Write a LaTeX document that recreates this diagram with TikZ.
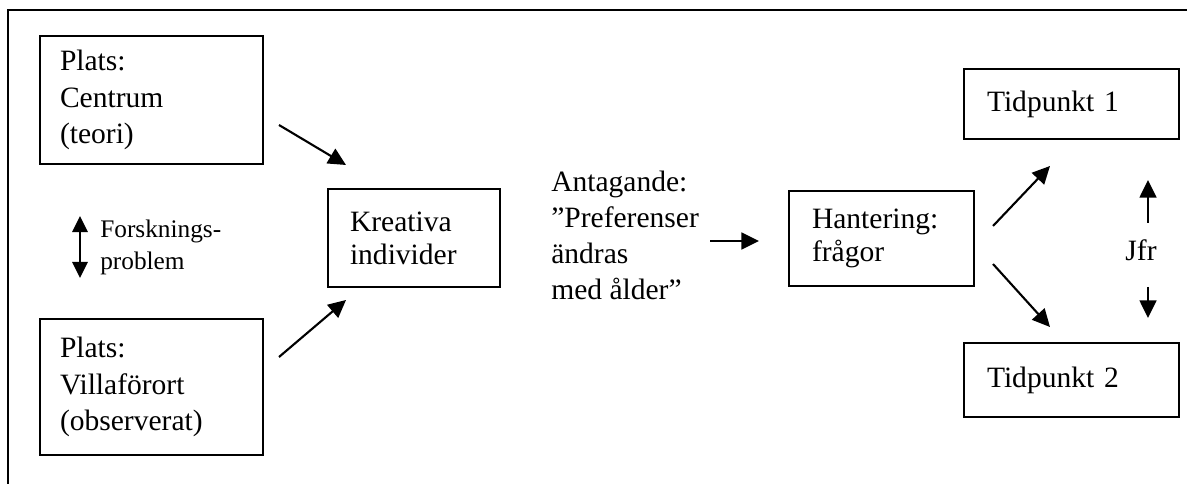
\documentclass[tikz,border=0pt]{standalone}
\usepackage{fontspec}
\setmainfont{Liberation Serif}
\usetikzlibrary{arrows.meta}
\begin{document}
\begin{tikzpicture}[x=0.025cm,y=-0.025cm,
  box/.style={draw, line width=1.4pt, rectangle, anchor=north west, align=left,
    inner ysep=0pt, outer sep=0pt},
  bigtxt/.style={font=\fontsize{21}{26.2}\selectfont},
  midtxt/.style={font=\fontsize{21}{23.5}\selectfont},
  arr/.style={-{Triangle[length=0.44cm,width=0.42cm]}, line width=1.5pt},
  darr/.style={{Triangle[length=0.4cm,width=0.38cm]}-{Triangle[length=0.4cm,width=0.38cm]}, line width=1.5pt},
  freetxt/.style={align=left, inner sep=0pt, anchor=north west},
  frame/.style={line width=0.9pt}
]
\useasboundingbox (0,0) rectangle (1187,484);
% outer frame (top and left sides)
\coordinate (fr) at (1187,10);
\coordinate (fc) at (8,10);
\coordinate (fb) at (8,484);
\draw[frame] (fr) -- (fc) -- (fb);

% boxes
\node[box, bigtxt, inner xsep=0.5cm, text width=4.575cm, minimum height=3.2cm] (centrum) at (40,36) {Plats:\\Centrum\\(teori)};
\node[box, bigtxt, inner xsep=0.5cm, text width=4.575cm, minimum height=3.4cm] (villa) at (40,319) {Plats:\\Villaförort\\(observerat)};
\node[box, midtxt, inner xsep=0.55cm, text width=3.2cm, minimum height=2.45cm] (kreativa) at (328,189) {Kreativa\\individer};
\node[box, midtxt, inner xsep=0.575cm, text width=3.475cm, minimum height=2.375cm] (hantering) at (789,191) {Hantering:\\frågor};
\node[box, bigtxt, inner xsep=0.575cm, text width=4.225cm, minimum height=1.75cm] (tid1) at (964,69) {Tidpunkt 1};
\node[box, bigtxt, inner xsep=0.575cm, text width=4.225cm, minimum height=1.85cm] (tid2) at (964,343) {Tidpunkt 2};

% free texts
\node[freetxt, font=\fontsize{18}{22.7}\selectfont] (forsk) at (100,220) {Forsknings-\\problem};
\node[freetxt, font=\fontsize{21}{25.5}\selectfont] (antag) at (551,171) {Antagande:\\”Preferenser\\ändras\\med ålder”};
\node[inner sep=0pt, anchor=base, bigtxt] (jfr) at (1141,261) {Jfr};

% arrow end points
\coordinate (a1s) at (279,125);  \coordinate (a1e) at (346,165);
\coordinate (a2s) at (279,357);  \coordinate (a2e) at (346,300);
\coordinate (a3s) at (710,241);  \coordinate (a3e) at (759,241);
\coordinate (a4s) at (993,226);  \coordinate (a4e) at (1050,166);
\coordinate (a5s) at (993,264);  \coordinate (a5e) at (1050,327);
\coordinate (fu) at (80,216);    \coordinate (fd) at (80,278);
\coordinate (ju1) at (1148,223); \coordinate (ju2) at (1148,180);
\coordinate (jd1) at (1148,287); \coordinate (jd2) at (1148,318);

% connectors
\draw[arr] (a1s) -- (a1e);
\draw[arr] (a2s) -- (a2e);
\draw[arr] (a3s) -- (a3e);
\draw[arr] (a4s) -- (a4e);
\draw[arr] (a5s) -- (a5e);
\draw[darr] (fu) -- (fd);
\draw[arr] (ju1) -- (ju2);
\draw[arr] (jd1) -- (jd2);
\end{tikzpicture}
\end{document}
